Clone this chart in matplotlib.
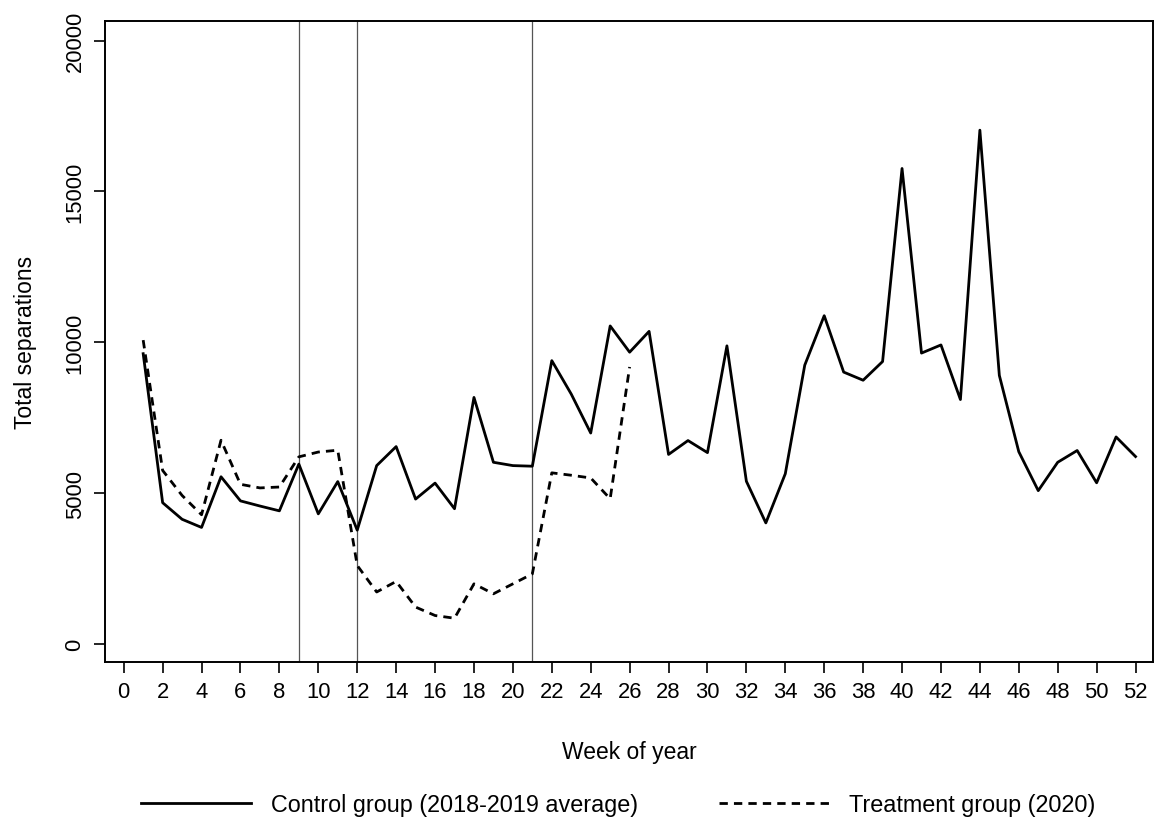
import matplotlib
matplotlib.use("Agg")
import matplotlib.pyplot as plt

plt.rcParams['font.family'] = ['Liberation Sans', 'DejaVu Sans']

# Daten
weeks_control = list(range(1, 53))
control = [9620, 4680, 4130, 3860, 5540, 4740, 4570, 4410, 5960, 4310,
           5380, 3770, 5910, 6540, 4800, 5330, 4480, 8170, 6020, 5910,
           5890, 9390, 8280, 6990, 10540, 9670, 10360, 6280, 6740, 6340,
           9880, 5390, 4010, 5640, 9240, 10880, 9010, 8740, 9360, 15760,
           9640, 9910, 8100, 17030, 8900, 6370, 5080, 6020, 6410, 5340,
           6860, 6210]

weeks_treat = list(range(1, 27))
treatment = [10070, 5750, 4920, 4280, 6750, 5290, 5170, 5200, 6200, 6360,
             6420, 2600, 1720, 2070, 1220, 940, 850, 1990, 1660, 1990,
             2320, 5670, 5590, 5500, 4810, 9180]

event_weeks = [9, 12, 21]
x_ticks = list(range(0, 53, 2))
y_ticks = [0, 5000, 10000, 15000, 20000]

fig = plt.figure(figsize=(11.62, 8.2), dpi=100)
ax = fig.add_axes([0.0904, 0.1915, 0.9019, 0.7817])

for w in event_weeks:
    ax.axvline(w, color='#555555', lw=0.9, zorder=1)

ax.plot(weeks_control, control, color='black', lw=2.0,
        label='Control group (2018-2019 average)', zorder=3)
ax.plot(weeks_treat, treatment, color='black', lw=2.0, dashes=(3, 2.2),
        label='Treatment group (2020)', zorder=3)

ax.set_xlim(-0.96, 52.9)
ax.set_ylim(-600, 20650)
ax.set_xticks(x_ticks)
ax.set_yticks(y_ticks)
ax.tick_params(axis='both', direction='out', length=8, width=1.2,
               labelsize=15.8, pad=6)
for lbl in ax.get_yticklabels():
    lbl.set_rotation(90)
    lbl.set_va('center')
for sp in ax.spines.values():
    sp.set_linewidth(1.4)

ax.set_xlabel('Week of year', fontsize=16.5, labelpad=27)
ax.set_ylabel('Total separations', fontsize=16.5, labelpad=20)

fig.legend(loc='center', bbox_to_anchor=(0.532, 0.018), ncol=2,
           frameon=False, fontsize=16.8, handlelength=4.7,
           handletextpad=0.85, columnspacing=3.5)

fig.savefig('out.png', dpi=100)
